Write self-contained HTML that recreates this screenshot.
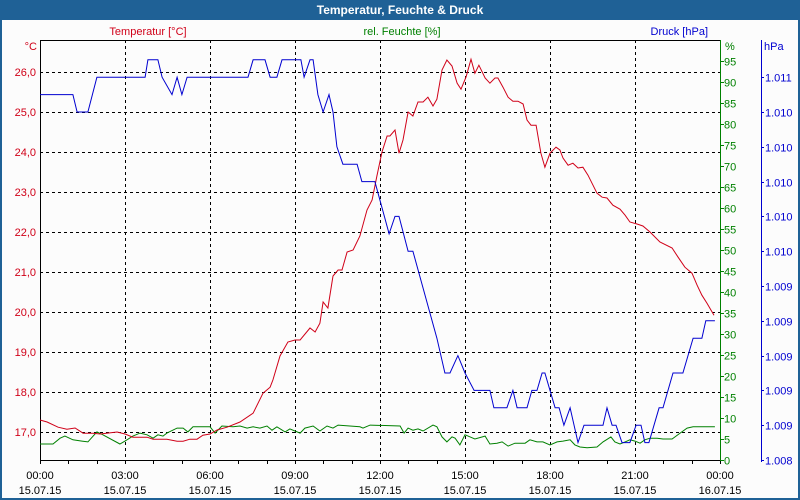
<!DOCTYPE html>
<html><head><meta charset="utf-8">
<style>
html,body{margin:0;padding:0;background:#fff;}
#wrap{position:relative;width:800px;height:500px;overflow:hidden;background:#1f6196;}
svg{position:absolute;left:0;top:0;font-family:"Liberation Sans","DejaVu Sans",sans-serif;}
</style></head>
<body>
<div id="wrap">
<svg id="chart" width="800" height="500"></svg>
</div>
<script>
// ---- data ----
const timeTickLabels = ["00:00","03:00","06:00","09:00","12:00","15:00","18:00","21:00","00:00"];
const dateTickLabels = ["15.07.15","15.07.15","15.07.15","15.07.15","15.07.15","15.07.15","15.07.15","15.07.15","16.07.15"];
const tempTickValues = [17,18,19,20,21,22,23,24,25,26];
const humTickValues = [0,5,10,15,20,25,30,35,40,45,50,55,60,65,70,75,80,85,90,95];
const pressTickValues = [1008.4,1008.6,1008.8,1009.0,1009.2,1009.4,1009.6,1009.8,1010.0,1010.2,1010.4,1010.6];
const pressTickLabels = ["1.008","1.009","1.009","1.009","1.009","1.009","1.010","1.010","1.010","1.010","1.010","1.011"];

const tempHours = [0,.25,.64,.95,1.24,1.52,1.87,2.12,2.72,3.0,3.28,3.78,3.99,4.48,4.84,5.05,5.29,5.54,5.75,6.0,6.25,6.6,7.06,7.52,7.87,8.12,8.22,8.47,8.75,9.0,9.18,9.53,9.71,9.88,9.99,10.16,10.34,10.52,10.66,10.84,11.05,11.29,11.54,11.72,11.89,12.07,12.25,12.35,12.53,12.67,12.81,12.99,13.16,13.34,13.52,13.69,13.87,14.01,14.19,14.36,14.54,14.72,14.86,15.04,15.21,15.35,15.49,15.71,15.88,16.06,16.16,16.34,16.52,16.69,16.87,17.05,17.19,17.33,17.51,17.68,17.82,18.0,18.21,18.35,18.46,18.64,18.81,18.99,19.16,19.34,19.66,19.84,20.01,20.22,20.47,20.65,20.82,21.07,21.28,21.53,21.88,22.31,22.52,22.76,23.01,23.19,23.36,23.54,23.79];
const tempValues = [17.3,17.25,17.12,17.07,17.1,16.97,16.97,16.95,17.0,16.95,16.87,16.87,16.82,16.82,16.77,16.77,16.82,16.82,16.92,16.95,17.05,17.12,17.25,17.47,17.97,18.12,18.3,18.9,19.25,19.3,19.3,19.6,19.5,19.72,20.25,20.1,20.9,21.05,21.05,21.5,21.55,21.9,22.55,22.8,23.4,24.0,24.4,24.4,24.55,23.97,24.3,25.0,24.9,25.25,25.25,25.37,25.15,25.32,26.05,26.3,26.15,25.72,25.57,25.88,26.32,25.97,26.17,25.85,25.72,25.85,25.85,25.62,25.37,25.27,25.27,25.2,24.8,24.67,24.67,23.97,23.62,23.97,24.12,24.05,23.85,23.67,23.72,23.6,23.62,23.42,22.97,22.87,22.85,22.67,22.57,22.42,22.25,22.2,22.15,22.0,21.75,21.6,21.37,21.12,20.97,20.67,20.42,20.22,19.92];

const humHours = [0,.46,.71,.88,1.16,1.48,1.69,2.01,2.22,2.82,3.0,3.28,3.53,3.78,3.99,4.16,4.34,4.48,4.84,5.05,5.22,5.4,6.0,6.18,6.42,6.81,7.06,7.31,7.52,7.76,8.01,8.19,8.36,8.65,8.82,9.18,9.35,9.64,9.88,10.13,10.34,10.52,11.29,11.4,11.65,12.71,12.85,12.99,13.16,13.34,13.52,13.87,14.01,14.19,14.36,14.54,14.65,14.82,15.0,15.18,15.35,15.71,15.88,16.13,16.31,16.52,16.76,17.12,17.29,17.54,17.75,18.0,18.25,18.46,18.71,18.88,19.06,19.31,19.66,19.87,20.15,20.29,20.47,20.65,20.82,21.0,21.18,21.35,21.53,21.78,21.99,22.31,22.59,22.84,23.05,23.29,23.82];
const humValues = [3.8,3.8,5.2,5.7,4.8,4.5,4.3,6.7,6.0,3.8,4.5,5.7,6.4,6.0,5.2,6.0,5.7,6.4,7.6,7.6,6.7,7.9,7.9,6.4,8.1,7.9,8.1,7.6,7.9,7.6,8.1,7.1,7.9,6.7,7.4,6.4,7.6,8.1,6.9,8.1,7.6,8.3,7.9,7.6,8.3,8.1,6.4,7.6,7.1,7.4,6.9,8.3,7.9,5.5,4.3,5.5,5.2,3.6,6.0,5.5,5.0,5.7,3.8,4.0,4.3,3.3,4.0,4.0,4.8,4.3,4.3,3.6,4.3,4.5,4.8,3.6,3.1,2.9,3.1,4.3,5.5,4.3,3.8,4.3,4.8,4.5,4.0,4.8,5.2,5.2,5.0,5.0,6.4,7.6,7.9,7.9,7.9];

const pressHours = [0,1.16,1.31,1.69,2.01,3.71,3.81,4.16,4.31,4.66,4.84,5.01,5.19,7.34,7.52,7.94,8.12,8.36,8.54,9.21,9.32,9.53,9.64,9.81,9.99,10.2,10.34,10.48,10.69,11.19,11.36,11.82,12.32,12.53,12.67,12.99,13.16,14.01,14.29,14.47,14.75,15.0,15.32,15.88,16.02,16.48,16.69,16.84,17.19,17.36,17.54,17.72,17.82,18.18,18.32,18.49,18.71,18.99,19.2,19.87,20.01,20.19,20.33,20.54,20.82,21.04,21.21,21.35,21.49,21.85,21.99,22.34,22.69,23.05,23.36,23.5,23.82];
const pressValues = [1010.5,1010.5,1010.4,1010.4,1010.6,1010.6,1010.7,1010.7,1010.6,1010.5,1010.6,1010.5,1010.6,1010.6,1010.7,1010.7,1010.6,1010.6,1010.7,1010.7,1010.6,1010.7,1010.7,1010.5,1010.4,1010.5,1010.4,1010.2,1010.1,1010.1,1010.0,1010.0,1009.7,1009.8,1009.8,1009.6,1009.6,1009.1,1008.9,1008.9,1009.0,1008.9,1008.8,1008.8,1008.7,1008.7,1008.8,1008.7,1008.7,1008.8,1008.8,1008.9,1008.9,1008.7,1008.7,1008.6,1008.7,1008.5,1008.6,1008.6,1008.7,1008.6,1008.6,1008.5,1008.5,1008.6,1008.6,1008.5,1008.5,1008.7,1008.7,1008.9,1008.9,1009.1,1009.1,1009.2,1009.2];

// ---- axes ----
const PL=40, PR=720, PT=40, PB=460;
const xOf = h => PL + h*(PR-PL)/24;
const yTemp = v => PB - (v-16.3)*40;
const yHum = v => PB - v*4.2;
const yPress = v => PB - (v-1008.4)*174;

const NS="http://www.w3.org/2000/svg";
const svg=document.getElementById('chart');
function mk(tag,attrs,parent){const e=document.createElementNS(NS,tag);for(const k in attrs)e.setAttribute(k,attrs[k]);(parent||svg).appendChild(e);return e;}
function txt(s,x,y,attrs){const e=mk('text',Object.assign({x:x,y:y,'font-size':11},attrs));e.textContent=s;return e;}

const RED="#d00018", GREEN="#008000", BLUE="#0000d0";

// background panel
let bg=mk('rect',{x:2,y:20,width:796,height:478,fill:'#fcfcfc'});


// title
let tt=txt("Temperatur, Feuchte & Druck",400,14,{'text-anchor':'middle',fill:'#fff','font-weight':'bold','font-size':12});



// grid
const grid=mk('g',{stroke:'#000','stroke-width':1,'stroke-dasharray':'3,3'});


for(let i=1;i<8;i++){const x=Math.round(xOf(i*3))+0.5;mk('line',{x1:x,y1:PT,x2:x,y2:PB},grid);}
tempTickValues.forEach(v=>{const y=Math.round(yTemp(v))+0.5;mk('line',{x1:PL,y1:y,x2:PR,y2:y},grid);});

// frame
mk('line',{x1:PL,y1:PT+0.5,x2:PR,y2:PT+0.5,stroke:'#000'});
let la=mk('line',{x1:PL+0.5,y1:PT,x2:PL+0.5,y2:PB,stroke:'#000'});


let xa=mk('line',{x1:PL,y1:PB+0.5,x2:PR,y2:PB+0.5,stroke:'#000'});


for(let i=0;i<=24;i++){const x=Math.round(xOf(i))+0.5;mk('line',{x1:x,y1:PB,x2:x,y2:PB+4,stroke:'#000'});}
timeTickLabels.forEach((s,i)=>{const x=xOf(i*3);
  let a=txt(s,x,479,{'text-anchor':'middle',fill:'#000'});
  
  
  let b=txt(dateTickLabels[i],x,494,{'text-anchor':'middle',fill:'#000'});
  
  });

// temp ticks
tempTickValues.forEach(v=>{let t=txt(v.toFixed(1).replace('.',','),36,yTemp(v)+4,{'text-anchor':'end',fill:RED});
  
  });
let tu=txt("°C",37,50,{'text-anchor':'end',fill:RED});



// humidity axis
let ha=mk('line',{x1:PR+0.5,y1:PT,x2:PR+0.5,y2:PB,stroke:GREEN});


humTickValues.forEach(v=>{const y=Math.round(yHum(v))+0.5;mk('line',{x1:PR,y1:y,x2:PR+4,y2:y,stroke:GREEN});
  let t=txt(String(v),724,y+4,{fill:GREEN});
  
  });
let hu=txt("%",725,50,{fill:GREEN});



// pressure axis
let pa=mk('line',{x1:761.5,y1:PT,x2:761.5,y2:PB+2,stroke:BLUE});


pressTickValues.forEach((v,i)=>{const y=Math.round(yPress(v))+0.5;mk('line',{x1:761,y1:y,x2:764,y2:y,stroke:BLUE});
  let t=txt(pressTickLabels[i],765,y+4,{fill:BLUE});
  
  });
let pu=txt("hPa",764,50,{fill:BLUE});



// series titles
let s1=txt("Temperatur [°C]",148,35,{'text-anchor':'middle',fill:RED});


let s2=txt("rel. Feuchte [%]",402,35,{'text-anchor':'middle',fill:GREEN});


let s3=txt("Druck [hPa]",708,35,{'text-anchor':'end',fill:BLUE});



// series
function line(hours,vals,yf,color){return mk('polyline',{points:hours.map((h,i)=>xOf(h).toFixed(1)+','+yf(vals[i]).toFixed(1)).join(' '),fill:'none',stroke:color,'stroke-width':1});}
let lh=line(humHours,humValues,yHum,GREEN);


let lt=line(tempHours,tempValues,yTemp,RED);


let lp=line(pressHours,pressValues,yPress,BLUE);


</script>
</body></html>
